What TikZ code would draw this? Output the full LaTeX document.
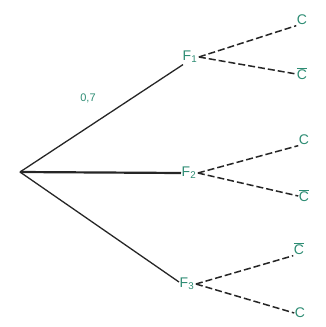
\documentclass[tikz,border=0pt]{standalone}
\usepackage{fontspec}
\setmainfont{Liberation Sans}
\definecolor{lab}{RGB}{45,140,115}
\begin{document}
\begin{tikzpicture}[x=1pt,y=-1pt,
  lbl/.style={text=lab,font=\fontsize{14}{14}\selectfont,inner sep=0.5pt},
  br/.style={line width=1.3pt,black!85},
  dsh/.style={line width=1.5pt,black!85,dash pattern=on 7pt off 3pt}]
\useasboundingbox (0,0) rectangle (325,327);
\coordinate (r) at (20,172);
\node[lbl,anchor=west] (f1) at (182,57) {F\textsubscript{1}};
\node[lbl,anchor=west] (f2) at (181,173) {F\textsubscript{2}};
\node[lbl,anchor=west] (f3) at (179,284) {F\textsubscript{3}};
\node[lbl,font=\fontsize{11}{11}\selectfont] (p) at (88,98) {0,7};
\node[lbl] (c11) at (302,20) {C};
\node[lbl] (c12) at (302,74) {$\overline{\mbox{C}}$};
\node[lbl] (c21) at (304,140) {C};
\node[lbl] (c22) at (304,196) {$\overline{\mbox{C}}$};
\node[lbl] (c31) at (299,249) {$\overline{\mbox{C}}$};
\node[lbl] (c32) at (300,313) {C};
\draw[br] (r) -- ([xshift=1pt,yshift=-1pt]f1.south west);
\draw[br,line width=2.2pt] (r) -- (f2.west);
\draw[br] (r) -- ([yshift=2pt]f3.west);
\draw[dsh] ([xshift=1pt]f1.east) -- (c11.south west);
\draw[dsh] ([xshift=1pt]f1.east) -- (c12.west);
\draw[dsh] ([xshift=1pt]f2.east) -- (c21.south west);
\draw[dsh] ([xshift=1pt]f2.east) -- (c22.west);
\draw[dsh] ([xshift=1pt]f3.east) -- (c31.south west);
\draw[dsh] ([xshift=1pt]f3.east) -- (c32.west);
\end{tikzpicture}
\end{document}
